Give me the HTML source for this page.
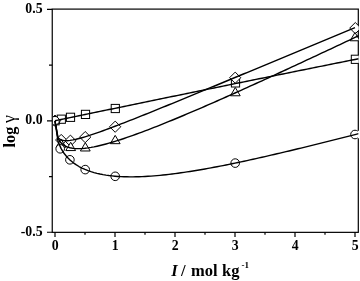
<!DOCTYPE html>
<html><head><meta charset="utf-8"><style>
html,body{margin:0;padding:0;background:#fff;}
body{width:360px;height:281px;overflow:hidden;}
svg{display:block;will-change:transform;}
text{font-family:"Liberation Serif",serif;font-weight:bold;fill:#000;}
</style></head><body>
<svg width="360" height="281" viewBox="0 0 360 281">
<defs>
<clipPath id="c1"><rect x="53" y="0" width="305.30" height="232"/></clipPath>
<clipPath id="c2"><rect x="53" y="0" width="305.75" height="232"/></clipPath>
<clipPath id="c3"><rect x="0" y="0" width="358.6" height="281"/></clipPath>
</defs>
<rect x="0" y="0" width="360" height="281" fill="#fff"/>
<g fill="none" stroke="#000" stroke-width="1.2">
<rect x="52.25" y="9.1" width="306.05" height="223.25"/>
<path d="M47,9.35 H52.25 M47,120.80 H52.25 M47,232.25 H52.25 M49,65.07 H52.25 M49,176.53 H52.25 M55.00,232.35 V237 M115.00,232.35 V237 M175.00,232.35 V237 M235.00,232.35 V237 M295.00,232.35 V237 M355.00,232.35 V237 M85.00,232.35 V234.8 M145.00,232.35 V234.8 M205.00,232.35 V234.8 M265.00,232.35 V234.8 M325.00,232.35 V234.8"/>
</g>
<g fill="#fff" stroke="#000" stroke-width="1.0" clip-path="url(#c2)"><rect x="50.90" y="116.65" width="8.2" height="8.2"/><rect x="57.20" y="115.10" width="8.2" height="8.2"/><rect x="66.40" y="113.20" width="8.2" height="8.2"/><rect x="81.40" y="110.30" width="8.2" height="8.2"/><rect x="111.20" y="104.40" width="8.2" height="8.2"/><rect x="231.40" y="78.80" width="8.2" height="8.2"/><rect x="351.30" y="55.20" width="8.2" height="8.2"/><path d="M55.00,115.15 L60.60,120.75 L55.00,126.35 L49.40,120.75Z"/><path d="M61.20,134.40 L66.80,140.00 L61.20,145.60 L55.60,140.00Z"/><path d="M70.40,135.10 L76.00,140.70 L70.40,146.30 L64.80,140.70Z"/><path d="M85.20,131.50 L90.80,137.10 L85.20,142.70 L79.60,137.10Z"/><path d="M115.20,121.10 L120.80,126.70 L115.20,132.30 L109.60,126.70Z"/><path d="M235.20,72.10 L240.80,77.70 L235.20,83.30 L229.60,77.70Z"/><path d="M355.30,22.50 L360.90,28.10 L355.30,33.70 L349.70,28.10Z"/><path d="M55.00,115.07 L59.90,123.37 L50.10,123.37Z"/><path d="M61.00,138.97 L65.90,147.27 L56.10,147.27Z"/><path d="M70.70,142.27 L75.60,150.57 L65.80,150.57Z"/><path d="M85.30,142.67 L90.20,150.97 L80.40,150.97Z"/><path d="M115.20,135.37 L120.10,143.67 L110.30,143.67Z"/><path d="M235.30,87.47 L240.20,95.77 L230.40,95.77Z"/><path d="M355.00,32.47 L359.90,40.77 L350.10,40.77Z"/><circle cx="55.00" cy="120.75" r="4.3"/><circle cx="60.20" cy="148.80" r="4.3"/><circle cx="69.90" cy="159.80" r="4.3"/><circle cx="85.20" cy="169.60" r="4.3"/><circle cx="115.20" cy="176.30" r="4.3"/><circle cx="235.20" cy="163.10" r="4.3"/><circle cx="355.00" cy="134.50" r="4.3"/></g>
<rect x="357.5" y="130.8" width="3" height="7.5" fill="#fff"/>
<g font-size="13.8"><text x="42.6" y="12.95" text-anchor="end">0.5</text><text x="42.6" y="124.40" text-anchor="end">0.0</text><text x="42.6" y="235.85" text-anchor="end">-0.5</text><text x="55.30" y="250" text-anchor="middle">0</text><text x="115.30" y="250" text-anchor="middle">1</text><text x="175.30" y="250" text-anchor="middle">2</text><text x="235.30" y="250" text-anchor="middle">3</text><text x="295.30" y="250" text-anchor="middle">4</text><text x="355.30" y="250" text-anchor="middle">5</text></g>
<g fill="none" stroke="#000" stroke-width="1.4" stroke-linejoin="round" clip-path="url(#c3)"><path d="M55.00,120.80 L58.00,120.17 L61.00,119.55 L64.00,118.92 L67.00,118.29 L70.00,117.67 L73.00,117.04 L76.00,116.42 L79.00,115.79 L82.00,115.17 L85.00,114.55 L88.00,113.92 L91.00,113.30 L94.00,112.67 L97.00,112.05 L100.00,111.43 L103.00,110.81 L106.00,110.18 L109.00,109.56 L112.00,108.94 L115.00,108.32 L118.00,107.70 L121.00,107.07 L124.00,106.45 L127.00,105.83 L130.00,105.21 L133.00,104.59 L136.00,103.97 L139.00,103.35 L142.00,102.73 L145.00,102.12 L148.00,101.50 L151.00,100.88 L154.00,100.26 L157.00,99.64 L160.00,99.03 L163.00,98.41 L166.00,97.79 L169.00,97.17 L172.00,96.56 L175.00,95.94 L178.00,95.33 L181.00,94.71 L184.00,94.09 L187.00,93.48 L190.00,92.86 L193.00,92.25 L196.00,91.64 L199.00,91.02 L202.00,90.41 L205.00,89.79 L208.00,89.18 L211.00,88.57 L214.00,87.96 L217.00,87.34 L220.00,86.73 L223.00,86.12 L226.00,85.51 L229.00,84.90 L232.00,84.28 L235.00,83.67 L238.00,83.06 L241.00,82.45 L244.00,81.84 L247.00,81.23 L250.00,80.62 L253.00,80.01 L256.00,79.41 L259.00,78.80 L262.00,78.19 L265.00,77.58 L268.00,76.97 L271.00,76.36 L274.00,75.76 L277.00,75.15 L280.00,74.54 L283.00,73.94 L286.00,73.33 L289.00,72.72 L292.00,72.12 L295.00,71.51 L298.00,70.91 L301.00,70.30 L304.00,69.70 L307.00,69.09 L310.00,68.49 L313.00,67.89 L316.00,67.28 L319.00,66.68 L322.00,66.08 L325.00,65.47 L328.00,64.87 L331.00,64.27 L334.00,63.67 L337.00,63.06 L340.00,62.46 L343.00,61.86 L346.00,61.26 L349.00,60.66 L352.00,60.06 L355.00,59.46 L358.60,58.74"/><path d="M55.00,120.80 L58.00,137.79 L61.00,139.95 L64.00,140.64 L67.00,140.70 L70.00,140.42 L73.00,139.93 L76.00,139.29 L79.00,138.54 L82.00,137.72 L85.00,136.83 L88.00,135.90 L91.00,134.92 L94.00,133.91 L97.00,132.88 L100.00,131.82 L103.00,130.74 L106.00,129.64 L109.00,128.53 L112.00,127.41 L115.00,126.27 L118.00,125.13 L121.00,123.97 L124.00,122.81 L127.00,121.64 L130.00,120.46 L133.00,119.28 L136.00,118.09 L139.00,116.90 L142.00,115.70 L145.00,114.50 L148.00,113.29 L151.00,112.08 L154.00,110.87 L157.00,109.65 L160.00,108.44 L163.00,107.22 L166.00,105.99 L169.00,104.77 L172.00,103.54 L175.00,102.31 L178.00,101.08 L181.00,99.85 L184.00,98.62 L187.00,97.38 L190.00,96.15 L193.00,94.91 L196.00,93.67 L199.00,92.43 L202.00,91.19 L205.00,89.95 L208.00,88.71 L211.00,87.47 L214.00,86.23 L217.00,84.98 L220.00,83.74 L223.00,82.49 L226.00,81.25 L229.00,80.00 L232.00,78.76 L235.00,77.51 L238.00,76.27 L241.00,75.02 L244.00,73.77 L247.00,72.53 L250.00,71.28 L253.00,70.03 L256.00,68.78 L259.00,67.54 L262.00,66.29 L265.00,65.04 L268.00,63.79 L271.00,62.55 L274.00,61.30 L277.00,60.05 L280.00,58.80 L283.00,57.56 L286.00,56.31 L289.00,55.06 L292.00,53.81 L295.00,52.57 L298.00,51.32 L301.00,50.07 L304.00,48.83 L307.00,47.58 L310.00,46.33 L313.00,45.09 L316.00,43.84 L319.00,42.60 L322.00,41.35 L325.00,40.11 L328.00,38.86 L331.00,37.62 L334.00,36.37 L337.00,35.13 L340.00,33.88 L343.00,32.64 L346.00,31.40 L349.00,30.15 L352.00,28.91 L355.00,27.67"/><path d="M55.00,120.80 L58.00,138.48 L61.00,142.89 L64.00,145.35 L67.00,146.86 L70.00,147.79 L73.00,148.33 L76.00,148.59 L79.00,148.63 L82.00,148.51 L85.00,148.24 L88.00,147.86 L91.00,147.39 L94.00,146.83 L97.00,146.20 L100.00,145.52 L103.00,144.77 L106.00,143.98 L109.00,143.15 L112.00,142.28 L115.00,141.37 L118.00,140.43 L121.00,139.46 L124.00,138.47 L127.00,137.45 L130.00,136.41 L133.00,135.35 L136.00,134.28 L139.00,133.18 L142.00,132.07 L145.00,130.94 L148.00,129.80 L151.00,128.64 L154.00,127.47 L157.00,126.29 L160.00,125.10 L163.00,123.90 L166.00,122.69 L169.00,121.47 L172.00,120.24 L175.00,119.01 L178.00,117.76 L181.00,116.51 L184.00,115.25 L187.00,113.98 L190.00,112.71 L193.00,111.43 L196.00,110.14 L199.00,108.85 L202.00,107.55 L205.00,106.25 L208.00,104.95 L211.00,103.64 L214.00,102.32 L217.00,101.00 L220.00,99.67 L223.00,98.35 L226.00,97.01 L229.00,95.68 L232.00,94.34 L235.00,93.00 L238.00,91.65 L241.00,90.30 L244.00,88.95 L247.00,87.59 L250.00,86.23 L253.00,84.87 L256.00,83.51 L259.00,82.14 L262.00,80.77 L265.00,79.40 L268.00,78.03 L271.00,76.65 L274.00,75.27 L277.00,73.89 L280.00,72.51 L283.00,71.13 L286.00,69.74 L289.00,68.35 L292.00,66.97 L295.00,65.57 L298.00,64.18 L301.00,62.79 L304.00,61.39 L307.00,59.99 L310.00,58.59 L313.00,57.19 L316.00,55.79 L319.00,54.39 L322.00,52.98 L325.00,51.58 L328.00,50.17 L331.00,48.76 L334.00,47.35 L337.00,45.94 L340.00,44.53 L343.00,43.12 L346.00,41.70 L349.00,40.29 L352.00,38.87 L355.00,37.45 L358.60,35.75"/><path d="M55.00,120.80 L58.00,141.29 L61.00,148.38 L64.00,153.27 L67.00,157.02 L70.00,160.05 L73.00,162.57 L76.00,164.69 L79.00,166.52 L82.00,168.09 L85.00,169.45 L88.00,170.64 L91.00,171.67 L94.00,172.58 L97.00,173.36 L100.00,174.04 L103.00,174.63 L106.00,175.13 L109.00,175.56 L112.00,175.91 L115.00,176.20 L118.00,176.43 L121.00,176.61 L124.00,176.74 L127.00,176.82 L130.00,176.85 L133.00,176.85 L136.00,176.81 L139.00,176.73 L142.00,176.61 L145.00,176.47 L148.00,176.30 L151.00,176.09 L154.00,175.86 L157.00,175.61 L160.00,175.33 L163.00,175.03 L166.00,174.71 L169.00,174.36 L172.00,174.00 L175.00,173.62 L178.00,173.22 L181.00,172.80 L184.00,172.37 L187.00,171.92 L190.00,171.46 L193.00,170.99 L196.00,170.50 L199.00,169.99 L202.00,169.48 L205.00,168.95 L208.00,168.41 L211.00,167.87 L214.00,167.31 L217.00,166.74 L220.00,166.16 L223.00,165.57 L226.00,164.98 L229.00,164.37 L232.00,163.76 L235.00,163.14 L238.00,162.51 L241.00,161.88 L244.00,161.23 L247.00,160.59 L250.00,159.93 L253.00,159.27 L256.00,158.60 L259.00,157.93 L262.00,157.26 L265.00,156.57 L268.00,155.89 L271.00,155.19 L274.00,154.50 L277.00,153.80 L280.00,153.09 L283.00,152.39 L286.00,151.67 L289.00,150.96 L292.00,150.24 L295.00,149.52 L298.00,148.79 L301.00,148.06 L304.00,147.33 L307.00,146.60 L310.00,145.86 L313.00,145.12 L316.00,144.38 L319.00,143.64 L322.00,142.89 L325.00,142.15 L328.00,141.40 L331.00,140.65 L334.00,139.90 L337.00,139.14 L340.00,138.39 L343.00,137.63 L346.00,136.88 L349.00,136.12 L352.00,135.36 L355.00,134.60 L358.60,133.68"/></g>
<g font-size="16.5"><text x="171.2" y="275.6" font-style="italic">I</text><text x="181" y="275.6">/</text><text x="191" y="275.6">mol</text><text x="222.1" y="275.6">kg</text><text x="241.6" y="268.2" font-size="9">-1</text></g>
<text transform="translate(14.9,147.4) rotate(-90)" font-size="16.2">log</text><text transform="translate(14.9,123) rotate(-90)" font-size="18" style="font-weight:normal">γ</text>
</svg>
</body></html>
